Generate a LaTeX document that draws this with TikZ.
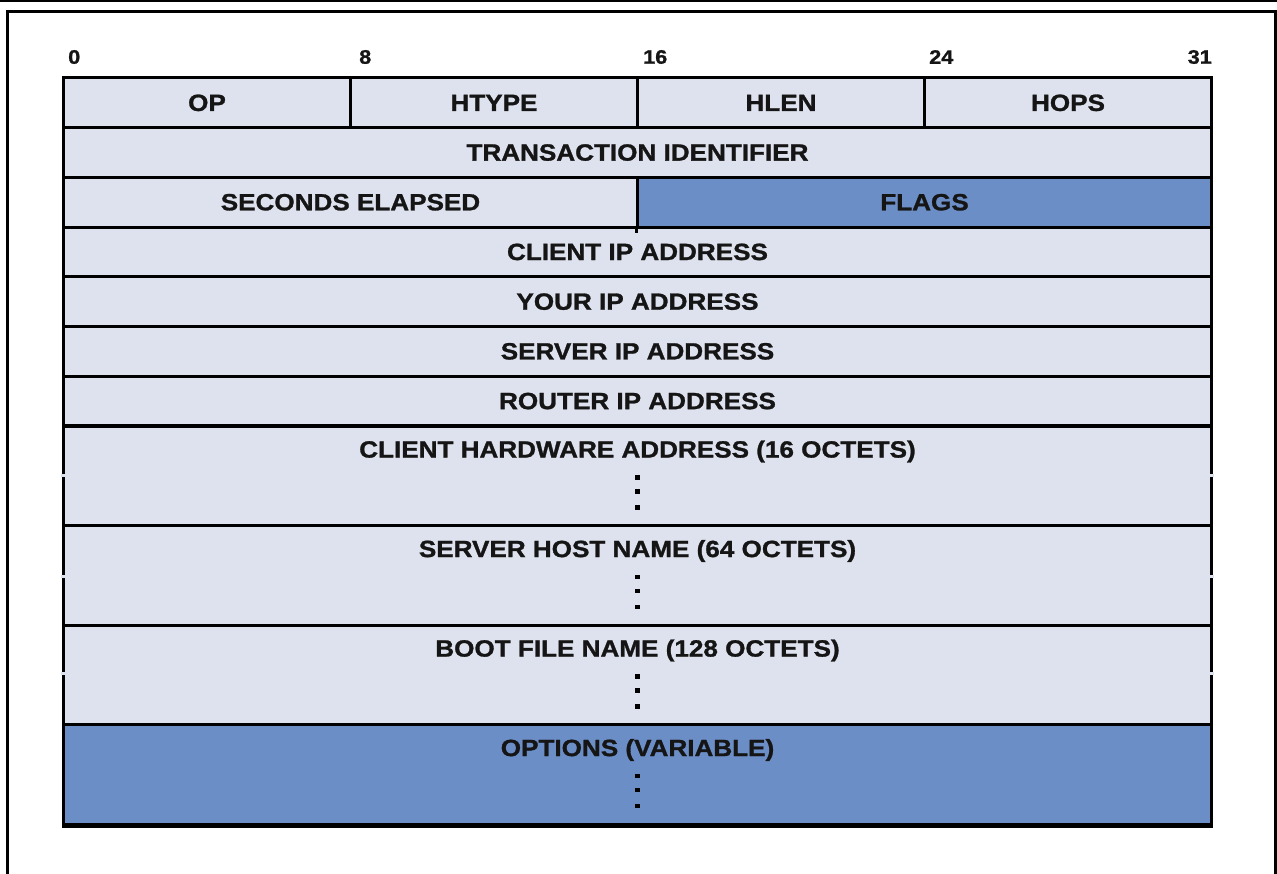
\documentclass[tikz,border=0pt]{standalone}
\usepackage{fontspec}
\setmainfont{Liberation Sans}
\newfontfamily\fieldfont{Liberation Sans}[FakeStretch=1.11,FakeBold=1.2]
\definecolor{cellgray}{HTML}{DEE2EE}
\definecolor{cellblue}{HTML}{6B8EC6}
\definecolor{inkdark}{HTML}{151515}
\begin{document}
\begin{tikzpicture}[x=1pt,y=-1pt,
  field/.style={draw=black, line width=3pt, fill=cellgray, rectangle, inner sep=0pt,
    text=inkdark, font=\fieldfont\bfseries\fontsize{23.5}{23.5}\selectfont},
  quarter/.style={field, minimum width=287pt, minimum height=49.7pt},
  half/.style={field, minimum width=574pt, minimum height=49.7pt},
  full/.style={field, minimum width=1148pt, minimum height=49.7pt},
  tall/.style={field, minimum width=1148pt, minimum height=99.5pt},
  highlight/.style={fill=cellblue},
  bitnum/.style={inner sep=0pt, text=inkdark, font=\fieldfont\bfseries\fontsize{19.5}{19.5}\selectfont},
  tallname/.style={inner sep=0pt, text=inkdark, font=\fieldfont\bfseries\fontsize{23.5}{23.5}\selectfont},
  dot/.style={fill=black, rectangle, inner sep=0pt, minimum size=4.5pt},
  frame/.style={line width=3pt, draw=black}]
\useasboundingbox (0,0) rectangle (1277,874);

% outer frame
\draw[line width=2.5pt] (0,1) -- (1277,1);
\draw[frame] (7.5,874) -- (7.5,11.5) -- (1275.5,11.5) -- (1275.5,874);

% bit positions
\node[bitnum, anchor=west] (b0) at (68,57) {0};
\node[bitnum, anchor=west] (b8) at (359,57) {8};
\node[bitnum, anchor=west] (b16) at (643,57) {16};
\node[bitnum, anchor=west] (b24) at (929,57) {24};
\node[bitnum, anchor=east] (b31) at (1212,57) {31};

% first row: four octets
\node[quarter] (op) at (207,102.85) {OP};
\node[quarter] (htype) at (494,102.85) {HTYPE};
\node[quarter] (hlen) at (781,102.85) {HLEN};
\node[quarter] (hops) at (1068,102.85) {HOPS};

% 32-bit rows
\node[full] (xid) at (637.5,152.55) {TRANSACTION IDENTIFIER};
\node[half] (secs) at (350.5,202.25) {SECONDS ELAPSED};
\node[half, highlight] (flags) at (924.5,202.25) {FLAGS};
\node[full] (ciaddr) at (637.5,251.95) {CLIENT IP ADDRESS};
\node[full] (yiaddr) at (637.5,301.65) {YOUR IP ADDRESS};
\node[full] (siaddr) at (637.5,351.35) {SERVER IP ADDRESS};
\node[full] (giaddr) at (637.5,401.05) {ROUTER IP ADDRESS};

% variable-size rows
\node[tall] (chaddr) at (637.5,475.75) {};
\node[tall] (sname) at (637.5,575.25) {};
\node[tall] (file) at (637.5,674.75) {};
\node[tall, highlight] (options) at (637.5,774.25) {};

% thicker closing edge
\draw[line width=4.5pt] (options.south west) -- (options.south east);
% divider tail below the flags row
\draw[line width=3pt] (flags.south west) -- ++(0,4);

% names and ellipses of the variable-size rows
\foreach \cell/\name in {chaddr/{CLIENT HARDWARE ADDRESS (16 OCTETS)},
    sname/{SERVER HOST NAME (64 OCTETS)},
    file/{BOOT FILE NAME (128 OCTETS)},
    options/{OPTIONS (VARIABLE)}}{
  \node[tallname] (\cell-name) at ([yshift=-27pt]\cell.north) {\name};
  \node[dot] (\cell-d1) at ([yshift=-53pt]\cell.north) {};
  \node[dot] (\cell-d2) at ([yshift=-67pt]\cell.north) {};
  \node[dot] (\cell-d3) at ([yshift=-83pt]\cell.north) {};
}

% small breaks in the side edges
\foreach \yy in {475,576,673.5}{
  \fill[cellgray] (61,\yy-1.5) rectangle (66,\yy+1.5);
  \fill[cellgray] (1209,\yy-1.5) rectangle (1214,\yy+1.5);
}
\end{tikzpicture}
\end{document}
